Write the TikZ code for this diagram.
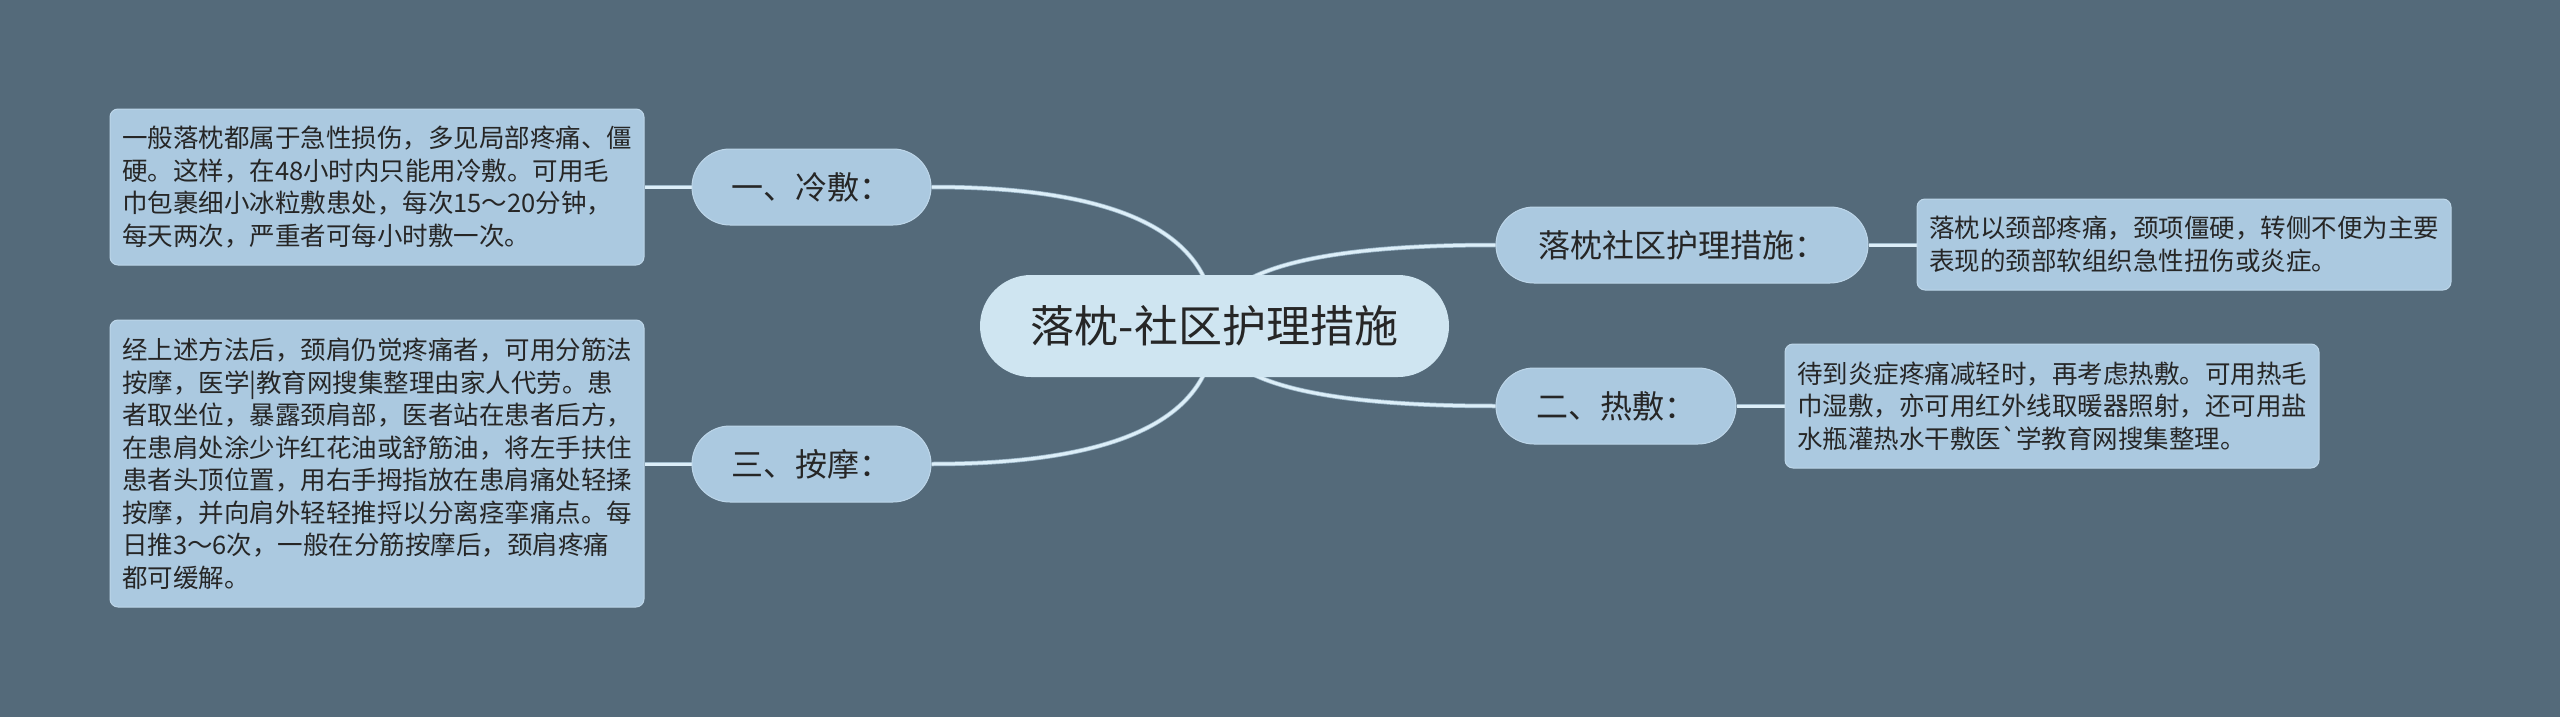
\documentclass[tikz,border=0pt]{standalone}
\usepackage{fontspec}
\setmainfont{Noto Sans CJK SC}[Ligatures=TeXOff]
\usetikzlibrary{calc}
\definecolor{bgc}{HTML}{546A7A}
\definecolor{rootc}{HTML}{CFE5F1}
\definecolor{subc}{HTML}{ABC9E0}
\definecolor{subedge}{HTML}{BDD6E9}
\definecolor{linein}{HTML}{DCEEF8}
\definecolor{lineout}{HTML}{9FB9CA}
\definecolor{txt}{HTML}{262626}
\pgfdeclarelayer{bg}
\pgfdeclarelayer{edgelayer}
\pgfsetlayers{bg,edgelayer,main}
\tikzset{
  rootbox/.style={fill=rootc, draw=none, rounded corners=51pt, minimum width=469pt, minimum height=102pt, inner sep=0pt, text=txt, font=\fontsize{44}{50}\selectfont},
  subbox/.style={fill=subc, draw=subedge, line width=1pt, rounded corners=38pt, minimum height=76pt, inner sep=0pt, text=txt, font=\fontsize{32}{38}\selectfont},
  notebox/.style={fill=subc, draw=subedge, line width=1pt, rounded corners=8pt, minimum width=534pt, align=left, inner xsep=12pt, inner ysep=0pt, text=txt, font=\fontsize{25.5}{32.5}\selectfont},
  linkout/.style={draw=lineout, line width=4.5pt},
  linkin/.style={draw=linein, line width=3pt}
}
\begin{document}
\begin{tikzpicture}[x=1pt,y=-1pt]
\begin{pgfonlayer}{bg}
\fill[bgc] (0,0) rectangle (2560,717);
\end{pgfonlayer}
\useasboundingbox (0,0) rectangle (2560,717);

\node[rootbox] (root) at (1214.5,326) {落枕-社区护理措施};

\node[subbox, minimum width=239pt] (cold) at (811.5,187) {一、冷敷：};
\node[subbox, minimum width=239pt] (mass) at (811.5,464) {三、按摩：};
\node[subbox, minimum width=372pt] (care) at (1682,245) {落枕社区护理措施：};
\node[subbox, minimum width=240pt] (hot) at (1616,406) {二、热敷：};

\node[notebox, minimum height=156pt] (tcold) at (377,187) {一般落枕都属于急性损伤，多见局部疼痛、僵\\硬。这样，在48小时内只能用冷敷。可用毛\\巾包裹细小冰粒敷患处，每次15～20分钟，\\每天两次，严重者可每小时敷一次。};
\node[notebox, minimum height=287pt] (tmass) at (377,463.5) {经上述方法后，颈肩仍觉疼痛者，可用分筋法\\按摩，医学|教育网搜集整理由家人代劳。患\\者取坐位，暴露颈肩部，医者站在患者后方，\\在患肩处涂少许红花油或舒筋油，将左手扶住\\患者头顶位置，用右手拇指放在患肩痛处轻揉\\按摩，并向肩外轻轻推捋以分离痉挛痛点。每\\日推3～6次，一般在分筋按摩后，颈肩疼痛\\都可缓解。};
\node[notebox, minimum height=91pt] (tcare) at (2184,244.5) {落枕以颈部疼痛，颈项僵硬，转侧不便为主要\\表现的颈部软组织急性扭伤或炎症。};
\node[notebox, minimum height=124pt] (thot) at (2052,406) {待到炎症疼痛减轻时，再考虑热敷。可用热毛\\巾湿敷，亦可用红外线取暖器照射，还可用盐\\水瓶灌热水干敷医`学教育网搜集整理。};

\begin{pgfonlayer}{edgelayer}
\foreach \s in {linkout,linkin}{
  \draw[\s] (root.center) .. controls ($(root.center)!2/3!(root.center |- cold.east)$) and ($(cold.east)!2/3!(root.center |- cold.east)$) .. (cold.east);
  \draw[\s] (root.center) .. controls ($(root.center)!2/3!(root.center |- mass.east)$) and ($(mass.east)!2/3!(root.center |- mass.east)$) .. (mass.east);
  \draw[\s] (root.center) .. controls ($(root.center)!2/3!(root.center |- care.west)$) and ($(care.west)!2/3!(root.center |- care.west)$) .. (care.west);
  \draw[\s] (root.center) .. controls ($(root.center)!2/3!(root.center |- hot.west)$) and ($(hot.west)!2/3!(root.center |- hot.west)$) .. (hot.west);
  \draw[\s] (cold.west) -- (cold.west -| tcold.east);
  \draw[\s] (mass.west) -- (mass.west -| tmass.east);
  \draw[\s] (care.east) -- (care.east -| tcare.west);
  \draw[\s] (hot.east) -- (hot.east -| thot.west);
}
\end{pgfonlayer}
\end{tikzpicture}
\end{document}
